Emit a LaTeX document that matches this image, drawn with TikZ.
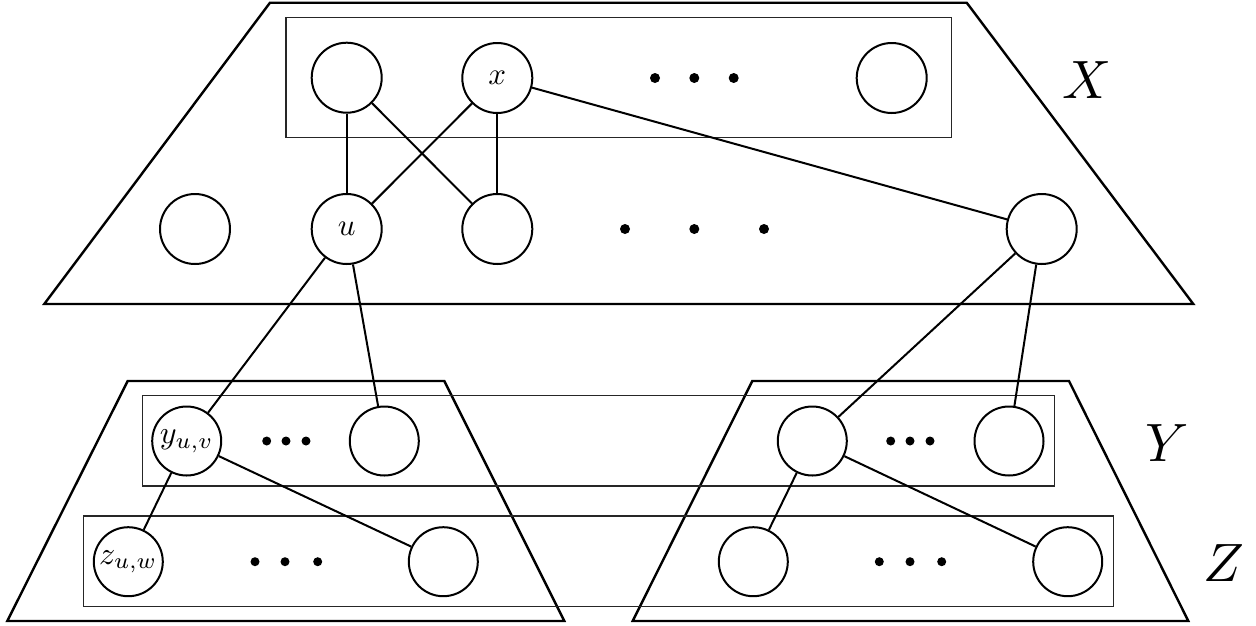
\documentclass[tikz,border=0pt]{standalone}
\begin{document}
\begin{tikzpicture}[x=1pt,y=-1pt,
  vtx/.style={circle, draw, line width=2pt, minimum size=70pt, inner sep=0pt},
  vtxs/.style={vtx, minimum size=69pt},
  trap/.style={draw, line width=2.4pt, line join=miter},
  grp/.style={draw, line width=1.2pt, black!85},
  edge/.style={line width=2pt},
  bigdot/.style={fill=black, circle, inner sep=0pt, minimum size=10pt},
  smalldot/.style={fill=black, circle, inner sep=0pt, minimum size=9pt},
  setlabel/.style={inner sep=0pt}
]
\useasboundingbox (0,0) rectangle (1256,625);

% trapezoids
\draw[trap] (270,2.7) -- (966.7,2.7) -- (1193.3,304) -- (44.3,304) -- cycle;
\draw[trap] (127.7,381) -- (444.3,381) -- (564.3,621) -- (7.3,621) -- cycle;
\draw[trap] (752.3,381) -- (1069,381) -- (1188.3,621) -- (632.7,621) -- cycle;

% group rectangles
\draw[grp] (286,17.3) rectangle (951.7,137.7);
\draw[grp] (142.7,395.3) rectangle (1054.3,486);
\draw[grp] (83.3,516) rectangle (1113.3,606.7);

% vertices of X
\node[vtx] (a1) at (346.7,77.7) {};
\node[vtx] (x)  at (497.3,78) {\scalebox{3.1}{$x$}};
\node[vtx] (a3) at (891.7,78) {};
\node[vtx] (b0) at (195,229) {};
\node[vtx] (u)  at (346.7,229) {\scalebox{3.1}{$u$}};
\node[vtx] (b2) at (497.3,229) {};
\node[vtx] (b4) at (1041.7,229) {};

% vertices of Y
\node[vtxs] (yuv) at (186.7,441) {\scalebox{3.2}{$y_{u,v}$}};
\node[vtxs] (y2)  at (384.3,441) {};
\node[vtxs] (y3)  at (812.3,441) {};
\node[vtxs] (y4)  at (1009,441) {};

% vertices of Z
\node[vtxs] (zuw) at (128.3,561.7) {\scalebox{3.2}{$z_{u,w}$}};
\node[vtxs] (z2)  at (443.3,561.7) {};
\node[vtxs] (z3)  at (753.3,561.7) {};
\node[vtxs] (z4)  at (1067.7,561.7) {};

% dots
\node[bigdot] (d1) at (655,78) {};
\node[bigdot] (d2) at (694.3,78) {};
\node[bigdot] (d3) at (733.7,78) {};
\node[bigdot] (e1) at (625,229) {};
\node[bigdot] (e2) at (694.3,229) {};
\node[bigdot] (e3) at (764,229) {};
\node[smalldot] (f1) at (266.7,441) {};
\node[smalldot] (f2) at (286,441) {};
\node[smalldot] (f3) at (306,441) {};
\node[smalldot] (g1) at (255,561.7) {};
\node[smalldot] (g2) at (285,561.7) {};
\node[smalldot] (g3) at (317.7,561.7) {};
\node[smalldot] (h1) at (890.7,441) {};
\node[smalldot] (h2) at (910,441) {};
\node[smalldot] (h3) at (930,441) {};
\node[smalldot] (k1) at (879.3,561.7) {};
\node[smalldot] (k2) at (910,561.7) {};
\node[smalldot] (k3) at (941.7,561.7) {};

% edges
\draw[edge] (a1) -- (u);
\draw[edge] (a1) -- (b2);
\draw[edge] (x) -- (u);
\draw[edge] (x) -- (b2);
\draw[edge] (x) -- (b4);
\draw[edge] (u) -- (yuv);
\draw[edge] (u) -- (y2);
\draw[edge] (b4) -- (y3);
\draw[edge] (b4) -- (y4);
\draw[edge] (yuv) -- (zuw);
\draw[edge] (yuv) -- (z2);
\draw[edge] (y3) -- (z3);
\draw[edge] (y3) -- (z4);

% set labels
\node[setlabel] (lX) at (1086.7,80) {\scalebox{5.4}{$X$}};
\node[setlabel] (lY) at (1166.7,443) {\scalebox{5.4}{$Y$}};
\node[setlabel] (lZ) at (1224,563) {\scalebox{5.4}{$Z$}};
\end{tikzpicture}
\end{document}
